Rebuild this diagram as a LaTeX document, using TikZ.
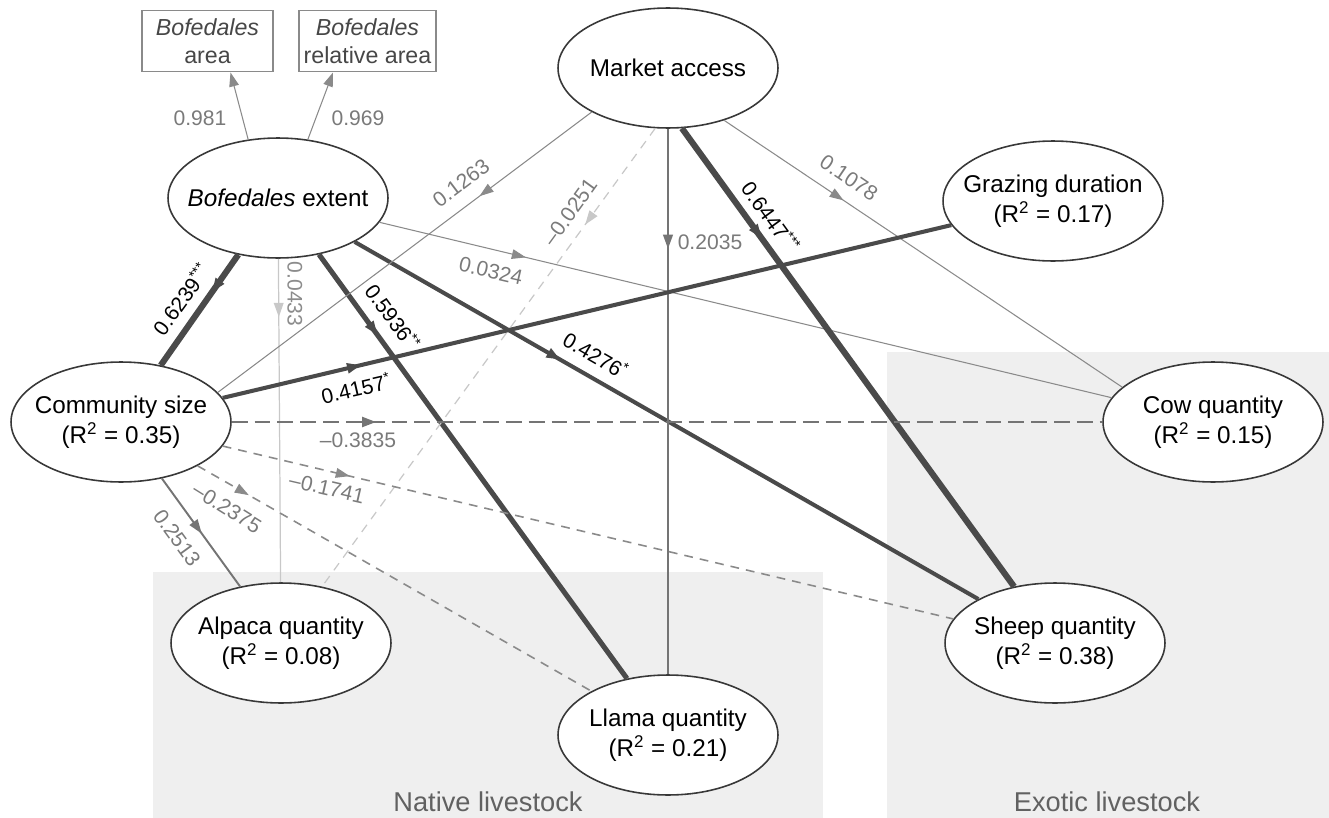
\documentclass[tikz,border=0pt]{standalone}
\usepackage{fontspec}
\setmainfont{Liberation Sans}
\usetikzlibrary{shapes.geometric,arrows.meta,decorations.markings}

\definecolor{edgegray}{HTML}{8A8A8A}
\definecolor{midgray}{HTML}{747474}
\definecolor{faintgray}{HTML}{C8C8C8}
\definecolor{darkline}{HTML}{4A4A4A}
\definecolor{labelgray}{HTML}{7A7A7A}
\definecolor{groupfill}{HTML}{EFEFEF}

\tikzset{
  latent/.style={ellipse, draw=black!78, line width=0.9pt, fill=white,
    minimum width=4.4cm, minimum height=2.4cm, inner xsep=-0.4cm, inner ysep=0pt,
    align=center, font=\fontsize{13.8}{17}\selectfont},
  indic/.style={rectangle, draw=edgegray, line width=1.1pt, fill=white,
    minimum height=1.22cm, inner sep=0pt, align=center, text=black!72,
    font=\fontsize{13.2}{15.8}\selectfont},
  coef/.style={text=labelgray, inner sep=1pt, font=\fontsize{12}{14}\selectfont},
  sigcoef/.style={coef, text=black},
  grouplabel/.style={text=black!62, font=\fontsize{15.5}{18}\selectfont},
  midarrow/.style={postaction={decorate}, decoration={markings,
    mark=at position #1 with {\arrow{Triangle[length=8pt,width=5.5pt]}}}},
  thinpath/.style={draw=edgegray, line width=0.6pt},
  faintpath/.style={draw=faintgray, line width=0.7pt},
  midpath/.style={draw=midgray, line width=1.1pt},
  heavy/.style={draw=darkline, line width=3.5pt},
  heavyb/.style={draw=darkline, line width=2.9pt},
  heavyc/.style={draw=darkline, line width=2.3pt},
  bigdash/.style={draw=midgray, line width=1.6pt, dash pattern=on 9pt off 4pt},
  smalldash/.style={draw=edgegray, line width=0.9pt, dash pattern=on 5pt off 4pt},
}

\begin{document}
\begin{tikzpicture}[x=0.02cm, y=-0.02cm]
\useasboundingbox (0,0) rectangle (1329,818);

% shaded groups
\fill[groupfill] (153,572) rectangle (823,818);
\fill[groupfill] (887,352) rectangle (1329,818);
\node[grouplabel] (native) at (488,802) {Native livestock};
\node[grouplabel] (exotic) at (1107,802) {Exotic livestock};

% indicators
\node[indic, minimum width=2.62cm] (area) at (207.5,41) {\textit{Bofedales}\\area};
\node[indic, minimum width=2.74cm] (relarea) at (367.5,41) {\textit{Bofedales}\\relative area};

% latent variables
\node[latent] (ext) at (278,198) {\textit{Bofedales} extent};
\node[latent] (mkt) at (668,68) {Market access};
\node[latent] (graz) at (1053,201) {Grazing duration\\(R\textsuperscript{2} = 0.17)};
\node[latent] (com) at (121,422) {Community size\\(R\textsuperscript{2} = 0.35)};
\node[latent] (cow) at (1213,422) {Cow quantity\\(R\textsuperscript{2} = 0.15)};
\node[latent] (alp) at (281,643) {Alpaca quantity\\(R\textsuperscript{2} = 0.08)};
\node[latent] (shp) at (1055,643) {Sheep quantity\\(R\textsuperscript{2} = 0.38)};
\node[latent] (lla) at (668,735) {Llama quantity\\(R\textsuperscript{2} = 0.21)};

% loadings
\draw[thinpath, -{Triangle[length=8pt,width=5.5pt]}] (ext.117) -- ([xshift=0.46cm]area.south);
\draw[thinpath, -{Triangle[length=8pt,width=5.5pt]}] (ext.63) -- ([xshift=-0.69cm]relarea.south);
\node[coef] (l981) at (200,118) {0.981};
\node[coef] (l969) at (358,118) {0.969};

% paths from bofedales extent
\draw[heavy, midarrow=0.34] (ext) -- (com);
\draw[faintpath, midarrow=0.18] (ext) -- (alp);
\draw[heavyb, midarrow=0.19] (ext) -- (lla);
\draw[heavyc, midarrow=0.33] (ext) -- (shp);
\draw[thinpath, midarrow=0.2] (ext) -- (cow);

% paths from market access
\draw[thinpath, midarrow=0.3] (mkt.210) -- (com.17);
\draw[faintpath, dash pattern=on 5pt off 4pt, midarrow=0.21] (mkt.258) -- (alp);
\draw[midpath, midarrow=0.22] (mkt) -- (lla);
\draw[heavy, midarrow=0.24] (mkt.283) -- (shp);
\draw[thinpath, midarrow=0.3] (mkt.317) -- (cow.159);

% paths from community size
\draw[heavyc, midarrow=0.19] (com) -- (graz);
\draw[bigdash, midarrow=0.166] (com) -- (cow);
\draw[smalldash, midarrow=0.174] (com) -- (shp);
\draw[smalldash, midarrow=0.13] (com) -- (lla);
\draw[midpath, midarrow=0.51] (com) -- (alp);

% coefficients
\node[sigcoef, rotate=54] (c6239) at (181,299) {0.6239\textsuperscript{***}};
\node[coef, text=black!45, rotate=-90] (c0433) at (295,294) {0.0433};
\node[sigcoef, rotate=-54] (c5936) at (393,317) {0.5936\textsuperscript{**}};
\node[sigcoef, rotate=-30] (c4276) at (596,355) {0.4276\textsuperscript{*}};
\node[coef, rotate=-13] (c0324) at (491,271) {0.0324};
\node[coef, rotate=37] (c1263) at (461,183) {0.1263};
\node[coef, rotate=54] (c0251) at (570,212) {--0.0251};
\node[coef] (c2035) at (710,242) {0.2035};
\node[sigcoef, rotate=-54] (c6447) at (771,217) {0.6447\textsuperscript{***}};
\node[coef, rotate=-34] (c1078) at (849,178) {0.1078};
\node[sigcoef, rotate=13] (c4157) at (356,388) {0.4157\textsuperscript{*}};
\node[coef] (c3835) at (358,440) {--0.3835};
\node[coef, rotate=-13] (c1741) at (327,488) {--0.1741};
\node[coef, rotate=-32] (c2375) at (227,508) {--0.2375};
\node[coef, rotate=-54] (c2513) at (177,538) {0.2513};
\end{tikzpicture}
\end{document}
